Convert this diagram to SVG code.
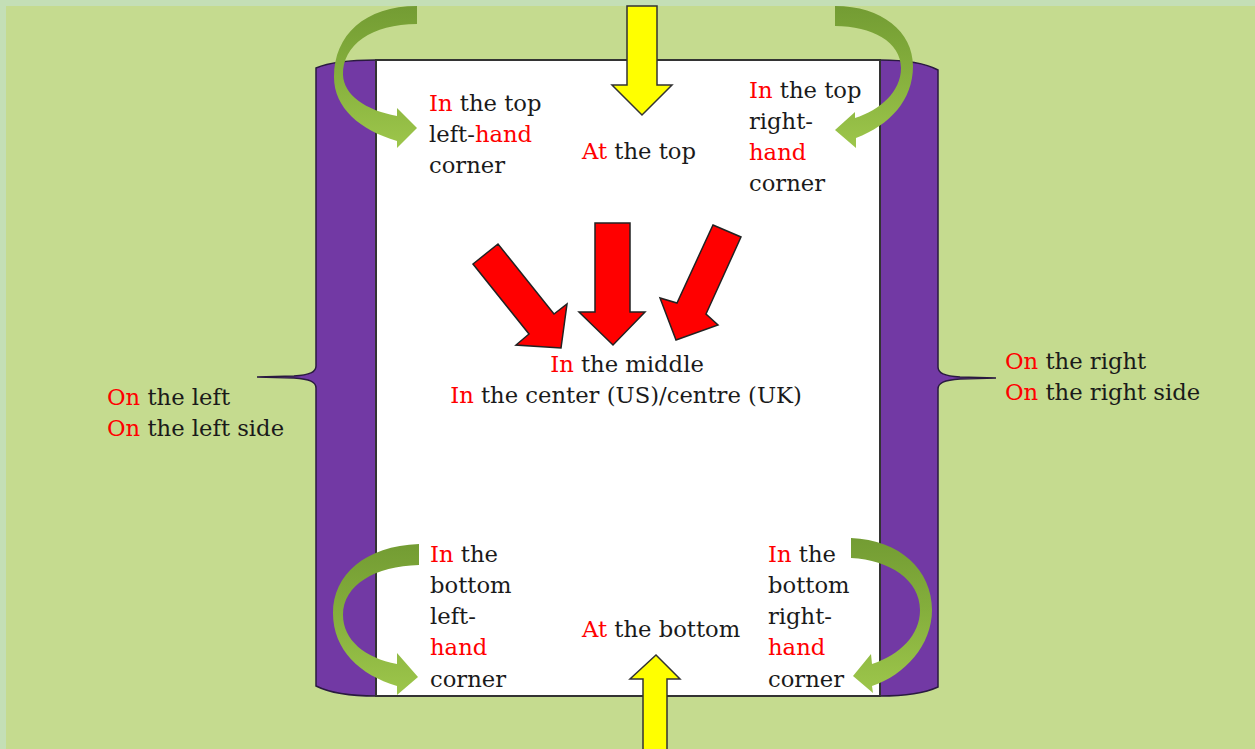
<svg xmlns="http://www.w3.org/2000/svg" width="1255" height="749" viewBox="0 0 1255 749">
<defs>
<style>
text{font-family:"DejaVu Serif","Liberation Serif",serif;font-size:22.7px;fill:#1a1a1a}
.r{fill:#ff0000}
.red{fill:#ff0000;stroke:#222;stroke-width:1.5;stroke-linejoin:miter}
.yel{fill:#ffff00;stroke:#333;stroke-width:1.5}
.grn{fill:url(#g);stroke:none}
</style>
<linearGradient id="g" x1="0" y1="0" x2="0" y2="1">
<stop offset="0" stop-color="#739c33"/>
<stop offset="0.45" stop-color="#84ae3c"/>
<stop offset="1" stop-color="#9dc64b"/>
</linearGradient>
</defs>
<rect x="0" y="0" width="1255" height="749" fill="#c4dfb6"/>
<rect x="6" y="6" width="1249" height="743" fill="#c5db8f"/>
<g id="scroll">
<path d="M316,68 C330,62 350,60 376,60 L880,60 C905,60 925,63 938,70 L938,367 C938,373 944,376 960,377 L996,378 L960,379 C944,380 938,383 938,389 L938,687 C925,693 905,696 880,696 L376,696 C350,696 330,693 316,686 L316,388 C316,382 310,379 294,378 L257,377 L294,376 C310,375 316,372 316,366 Z" fill="#7239a4" stroke="#2a1a40" stroke-width="1.5"/>
<rect x="376" y="60" width="504" height="636" fill="#ffffff" stroke="#333" stroke-width="2"/>
</g>
<g id="connectors">
<path class="grn" d="M417,6 C365,6 334,35 334,77 C334,108 360,130 397,141 L397,148 L417,128 L397,108 L397,116 C365,110 344,95 343,75 C342,45 372,24 417,24 Z"/>
<path class="grn" d="M835,6 C882,6 913,32 913,66 C913,100 890,125 856,138 L856,148 L835,130 L855,112 L855,118 C880,110 901,92 901,68 C901,42 872,26 835,26 Z"/>
<path class="grn" d="M419,544 C365,546 333,575 333,613 C333,650 360,675 397,686 L397,695 L418,677 L397,653 L397,664 C365,658 343,640 343,615 C343,585 375,566 419,565 Z"/>
<path class="grn" d="M851,538 C900,540 932,570 932,610 C932,645 905,675 872,686 L873,693 L853,676 L871,654 L872,664 C900,655 920,635 920,610 C920,580 890,560 851,558 Z"/>
<polygon class="yel" points="627,6 657,6 657,85 672,85 642,115 612,85 627,85"/>
<polygon class="yel" points="643,752 643,679 630,679 656,655 680,679 667,679 667,752"/>
<polygon class="red" points="595,223 630,223 630,312 645,312 613,345 579,312 595,312"/>
<polygon class="red" points="473,264 498,244 554,314 567,304 561,348 516,345 529,334"/>
<polygon class="red" points="713,225 741,237 706,314 718,325 676,340 660,298 677,303"/>
</g>
<g id="top-left">
<text x="429" y="111"><tspan class="r">In</tspan> the top</text>
<text x="429" y="142">left-<tspan class="r">hand</tspan></text>
<text x="429" y="173">corner</text>
</g>
<g id="top">
<text x="582" y="159"><tspan class="r">At</tspan> the top</text>
</g>
<g id="top-right">
<text x="749" y="98"><tspan class="r">In</tspan> the top</text>
<text x="749" y="129">right-</text>
<text x="749" y="160" class="r">hand</text>
<text x="749" y="191">corner</text>
</g>
<g id="middle">
<text x="627" y="372" text-anchor="middle"><tspan class="r">In</tspan> the middle</text>
<text x="626" y="403" text-anchor="middle"><tspan class="r">In</tspan> the center (US)/centre (UK)</text>
</g>
<g id="left">
<text x="107" y="405"><tspan class="r">On</tspan> the left</text>
<text x="107" y="436"><tspan class="r">On</tspan> the left side</text>
</g>
<g id="right">
<text x="1005" y="369"><tspan class="r">On</tspan> the right</text>
<text x="1005" y="400"><tspan class="r">On</tspan> the right side</text>
</g>
<g id="bottom-left">
<text x="430" y="562"><tspan class="r">In</tspan> the</text>
<text x="430" y="593">bottom</text>
<text x="430" y="624">left-</text>
<text x="430" y="655" class="r">hand</text>
<text x="430" y="687">corner</text>
</g>
<g id="bottom-right">
<text x="768" y="562"><tspan class="r">In</tspan> the</text>
<text x="768" y="593">bottom</text>
<text x="768" y="624">right-</text>
<text x="768" y="655" class="r">hand</text>
<text x="768" y="687">corner</text>
</g>
<g id="bottom">
<text x="582" y="637"><tspan class="r">At</tspan> the bottom</text>
</g>
</svg>
